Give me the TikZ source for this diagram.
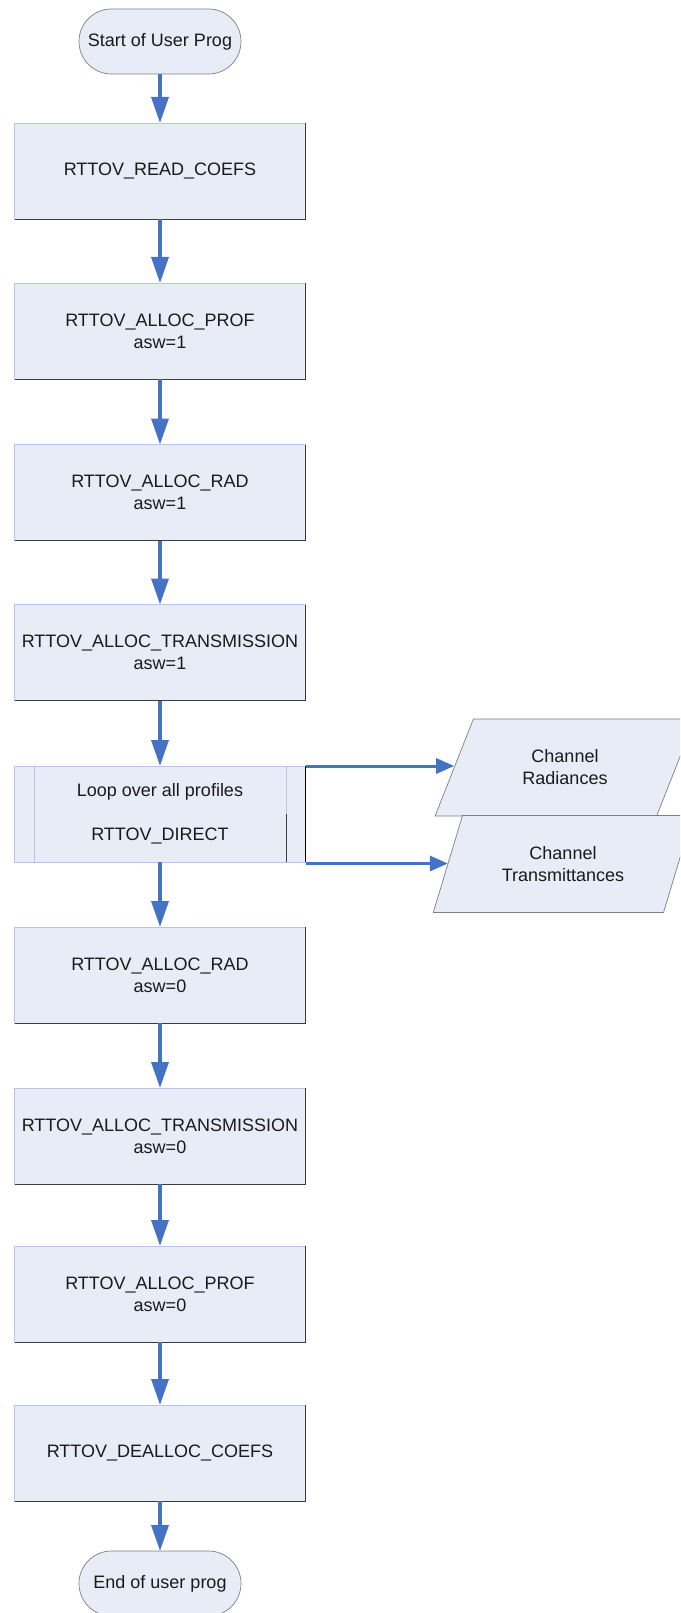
\documentclass[tikz,border=0pt]{standalone}
\usepackage{fontspec}
\setmainfont{Liberation Sans}
\usetikzlibrary{arrows.meta,shapes.geometric}
\definecolor{boxfill}{HTML}{E8ECF6}
\definecolor{lightedge}{HTML}{B4C5E6}
\definecolor{darkedge}{HTML}{3C3C3C}
\definecolor{grayedge}{HTML}{7F7F7F}
\definecolor{flowblue}{HTML}{4472C4}
\definecolor{txt}{HTML}{1A1A1A}
\begin{document}
\begin{tikzpicture}[x=1pt,y=-1pt,
  every node/.style={font=\fontsize{18}{22}\selectfont, text=txt},
  procbox/.style={rectangle, fill=boxfill, draw=lightedge, line width=0.8pt,
    minimum width=291pt, minimum height=96pt, inner sep=0pt, outer sep=0pt, align=center},
  termbox/.style={rectangle, rounded corners=32.5pt, fill=boxfill, draw=grayedge,
    line width=0.7pt, minimum width=162pt, minimum height=65pt, inner sep=0pt, outer sep=0pt},
  iobox/.style={trapezium, trapezium left angle=63.2, trapezium right angle=116.8,
    trapezium stretches=true, fill=boxfill, draw=grayedge, line width=0.7pt,
    minimum width=260pt, minimum height=97pt, inner sep=0pt, outer sep=0pt, align=center},
  shadeedge/.style={draw=darkedge, line width=0.8pt},
  flow/.style={draw=flowblue, line width=3.5pt, -{Triangle[length=26pt,width=17pt]}},
  sideflow/.style={draw=flowblue, line width=3pt, -{Triangle[length=18pt,width=15pt]}}]
\useasboundingbox (0,0) rectangle (680,1613);
\clip (0,0) rectangle (680,1613);

\node[termbox] (start) at (160,41.5) {Start of User Prog};
\node[procbox] (b1) at (160,171) {RTTOV\_READ\_COEFS};
\node[procbox] (b2) at (160,331) {RTTOV\_ALLOC\_PROF\\asw=1};
\node[procbox] (b3) at (160,492.5) {RTTOV\_ALLOC\_RAD\\asw=1};
\node[procbox] (b4) at (160,652.5) {RTTOV\_ALLOC\_TRANSMISSION\\asw=1};
\node[procbox] (loop) at (160,814) {Loop over all profiles\\[22pt]RTTOV\_DIRECT};
\node[procbox] (b6) at (160,975) {RTTOV\_ALLOC\_RAD\\asw=0};
\node[procbox] (b7) at (160,1136) {RTTOV\_ALLOC\_TRANSMISSION\\asw=0};
\node[procbox] (b8) at (160,1294) {RTTOV\_ALLOC\_PROF\\asw=0};
\node[procbox] (b9) at (160,1453) {RTTOV\_DEALLOC\_COEFS};
\node[termbox] (end) at (160,1583.5) {End of user prog};

\node[iobox] (rad) at (565,767.5) {Channel\\Radiances};
\node[iobox] (trans) at (563,864) {Channel\\Transmittances};

% shaded right/bottom edges
\foreach \n in {b1,b2,b3,b4,b6,b7,b8,b9}
  \draw[shadeedge] (\n.north east) -- (\n.south east) -- (\n.south west);

% predefined-process inner lines of the loop box
\draw[draw=lightedge, line width=0.8pt] ([xshift=20pt]loop.north west) -- ([xshift=20pt]loop.south west);
\draw[draw=lightedge, line width=0.8pt] ([xshift=-19.5pt]loop.north east) -- ([xshift=-19.5pt]loop.east);
\draw[shadeedge] ([xshift=-19.5pt]loop.east) -- ([xshift=-19.5pt]loop.south east);
\draw[draw=black, line width=1pt] (loop.north east) -- (loop.south east);

% main flow
\draw[flow] (start) -- (b1);
\draw[flow] (b1) -- (b2);
\draw[flow] (b2) -- (b3);
\draw[flow] (b3) -- (b4);
\draw[flow] (b4) -- (loop);
\draw[flow] (loop) -- (b6);
\draw[flow] (b6) -- (b7);
\draw[flow] (b7) -- (b8);
\draw[flow] (b8) -- (b9);
\draw[flow] (b9) -- (end);

% outputs
\draw[sideflow] (loop.north east) -- (loop.north east -| rad.west);
\draw[sideflow] ([yshift=-1.5pt]loop.south east) -- ([yshift=-1.5pt]loop.south east -| trans.west);
\end{tikzpicture}
\end{document}
